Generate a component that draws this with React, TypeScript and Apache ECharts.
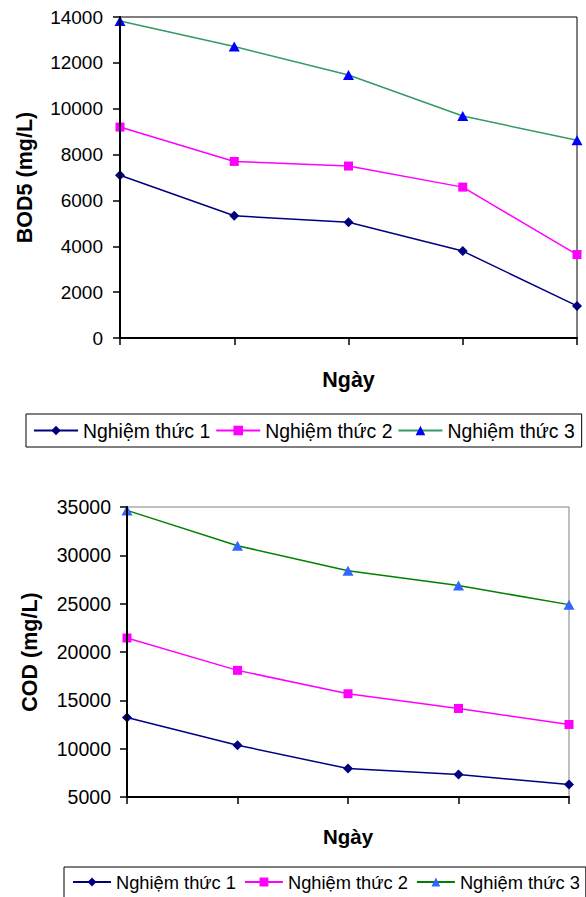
import React, { useEffect, useRef } from "react";
import * as echarts from "echarts";

const days = ["1", "2", "3", "4", "5"];
const seriesNames = ["Nghiệm thức 1", "Nghiệm thức 2", "Nghiệm thức 3"];

const bodNT1 = [7100, 5330, 5050, 3790, 1400];
const bodNT2 = [9200, 7700, 7500, 6580, 3640];
const bodNT3 = [13830, 12710, 11470, 9680, 8620];

const codNT1 = [13230, 10360, 7940, 7320, 6290];
const codNT2 = [21450, 18100, 15680, 14160, 12500];
const codNT3 = [34650, 31000, 28400, 26870, 24900];

const bodTicks = { min: 0, max: 14000, interval: 2000 };
const codTicks = { min: 5000, max: 35000, interval: 5000 };

const xAxisTitle = "Ngày";
const bodTitle = "BOD5 (mg/L)";
const codTitle = "COD (mg/L)";

const FONT = "'Liberation Sans', Arial, Helvetica, sans-serif";

export default function App() {
  const ref = useRef<HTMLDivElement>(null);

  useEffect(() => {
    if (!ref.current) return;
    const chart = echarts.init(ref.current, undefined, { renderer: "svg" });

    const mk = (
      name: string,
      data: number[],
      idx: number,
      lineColor: string,
      symbol: string,
      size: number | number[],
      markerColor: string
    ) => ({
      type: "line",
      name,
      data,
      xAxisIndex: idx,
      yAxisIndex: idx,
      symbol,
      symbolSize: size,
      showSymbol: true,
      showAllSymbol: true,
      clip: false,
      lineStyle: { color: lineColor, width: 1.5 },
      itemStyle: { color: markerColor, borderWidth: 0 },
      emphasis: { disabled: true },
      z: 5,
    });

    const xAxisCommon = (gridIndex: number, nameSize: number, nameGap: number) => ({
      type: "category",
      gridIndex,
      data: days,
      boundaryGap: false,
      name: xAxisTitle,
      nameLocation: "middle",
      nameGap,
      nameTextStyle: { fontFamily: FONT, fontWeight: "bold", fontSize: nameSize, color: "#000" },
      axisLine: { show: true, lineStyle: { color: "#000", width: 2 } },
      axisTick: { show: true, length: 7, interval: 0, lineStyle: { color: "#000", width: 1.5 } },
      axisLabel: { show: false },
      splitLine: { show: false },
      z: 6,
    });

    const yAxisCommon = (
      gridIndex: number,
      ticks: { min: number; max: number; interval: number },
      name: string,
      labelSize: number,
      nameSize: number,
      nameGap: number,
      margin: number
    ) => ({
      type: "value",
      gridIndex,
      min: ticks.min,
      max: ticks.max,
      interval: ticks.interval,
      name,
      nameLocation: "middle",
      nameRotate: 90,
      nameGap,
      nameTextStyle: { fontFamily: FONT, fontWeight: "bold", fontSize: nameSize, color: "#000" },
      axisLine: { show: true, lineStyle: { color: "#000", width: 2 } },
      axisTick: { show: true, length: 7, lineStyle: { color: "#000", width: 1.5 } },
      axisLabel: {
        fontFamily: FONT,
        fontSize: labelSize,
        color: "#000",
        margin,
        formatter: (v: number) => String(v),
      },
      splitLine: { show: false },
      z: 6,
    });

    const legendText = (size: number) => ({ fontFamily: FONT, fontSize: size, color: "#000" });

    chart.setOption({
      animation: false,
      backgroundColor: "#fff",
      grid: [
        { left: 120, top: 17, width: 457, height: 321, show: true, borderColor: "#000", borderWidth: 1, backgroundColor: "transparent" },
        { left: 127, top: 507, width: 442, height: 290, show: true, borderColor: "#808080", borderWidth: 1, backgroundColor: "transparent" },
      ],
      xAxis: [xAxisCommon(0, 21.5, 31), xAxisCommon(1, 20.5, 29)],
      yAxis: [
        yAxisCommon(0, bodTicks, bodTitle, 19, 21.5, 84, 17),
        yAxisCommon(1, codTicks, codTitle, 19.5, 21.5, 86, 16),
      ],
      legend: [
        {
          left: 26,
          top: 414,
          width: 700,
          orient: "horizontal",
          padding: [7, 7, 7, 7],
          borderColor: "#000",
          borderWidth: 1,
          itemWidth: 44,
          itemHeight: 12,
          itemGap: 5,
          selectedMode: false,
          textStyle: legendText(19.4),
          data: seriesNames.map((n) => ({ name: n })),
        },
        {
          left: 64,
          top: 867,
          width: 700,
          orient: "horizontal",
          padding: [6, 6, 7, 8],
          borderColor: "#000",
          borderWidth: 1,
          itemWidth: 38,
          itemHeight: 11,
          itemGap: 8,
          selectedMode: false,
          textStyle: legendText(18.3),
          data: [
            { name: seriesNames[0] },
            { name: seriesNames[1] },
            { name: seriesNames[2], itemStyle: { color: "#3366FF" }, lineStyle: { color: "#008000" } },
          ],
        },
      ],
      series: [
        mk(seriesNames[0], bodNT1, 0, "#000080", "diamond", 10, "#000080"),
        mk(seriesNames[1], bodNT2, 0, "#FF00FF", "rect", 9, "#FF00FF"),
        mk(seriesNames[2], bodNT3, 0, "#339966", "triangle", [11, 10], "#0000FF"),
        mk(seriesNames[0], codNT1, 1, "#000080", "diamond", 10, "#000080"),
        mk(seriesNames[1], codNT2, 1, "#FF00FF", "rect", 9, "#FF00FF"),
        mk(seriesNames[2], codNT3, 1, "#008000", "triangle", [11, 10], "#3366FF"),
      ],
    });

    return () => chart.dispose();
  }, []);

  return (
    <div
      ref={ref}
      style={{ position: "absolute", left: 0, top: 0, width: 586, height: 897 }}
    />
  );
}
